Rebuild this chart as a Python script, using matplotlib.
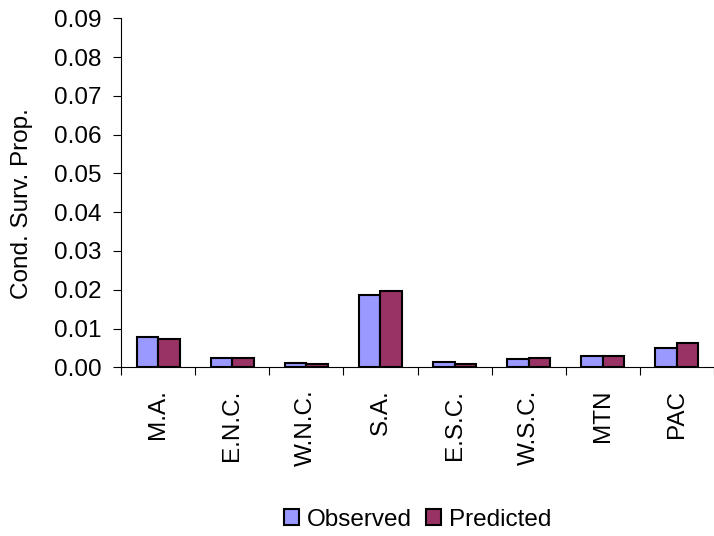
import numpy as np
import matplotlib.pyplot as plt

regions = ["M.A.", "E.N.C.", "W.N.C.", "S.A.", "E.S.C.", "W.S.C.", "MTN", "PAC"]
observed = [0.0077, 0.0025, 0.0010, 0.0186, 0.0015, 0.0021, 0.0030, 0.0051]
predicted = [0.0072, 0.0025, 0.0009, 0.0196, 0.0009, 0.0025, 0.0030, 0.0062]

plt.rcParams['font.family'] = ['Liberation Sans', 'DejaVu Sans']
fs = 17.5

fig = plt.figure(figsize=(7.14, 5.36), dpi=100)
ax = fig.add_axes([0.1695, 0.3147, 0.8305, 0.6512])

x = np.arange(len(regions))
w = 0.29
ax.bar(x - w / 2, observed, w, color="#9999FF", edgecolor="black", linewidth=1.5, label="Observed")
ax.bar(x + w / 2, predicted, w, color="#993366", edgecolor="black", linewidth=1.5, label="Predicted")

ax.set_xlim(-0.5, len(regions) - 0.5)
ax.set_ylim(0, 0.09)
yt = np.arange(0, 0.091, 0.01)
ax.set_yticks(yt)
ax.set_yticklabels([f"{v:.2f}" for v in yt], fontsize=fs)

ax.set_xticks(x)
ax.set_xticklabels(regions, rotation=90, fontsize=fs)
ax.tick_params(axis="x", which="major", length=0, pad=16)
ax.set_xticks(np.arange(-0.5, len(regions)), minor=True)
ax.tick_params(axis="x", which="minor", length=5.8, width=0.8, direction="out")
ax.tick_params(axis="y", length=5.8, width=0.8, direction="out", pad=8)

for s in ["top", "right"]:
    ax.spines[s].set_visible(False)
ax.spines["left"].set_linewidth(0.8)
ax.spines["bottom"].set_linewidth(0.8)

ax.set_ylabel("Cond. Surv. Prop.", fontsize=fs, labelpad=12)
ax.yaxis.set_label_coords(-0.148, 0.47)

fig.legend(loc="center", bbox_to_anchor=(0.585, 0.03), ncol=2, frameon=False,
           fontsize=fs, handlelength=0.62, handleheight=0.62, handletextpad=0.35,
           columnspacing=0.55)

fig.savefig("out.png", dpi=100)
